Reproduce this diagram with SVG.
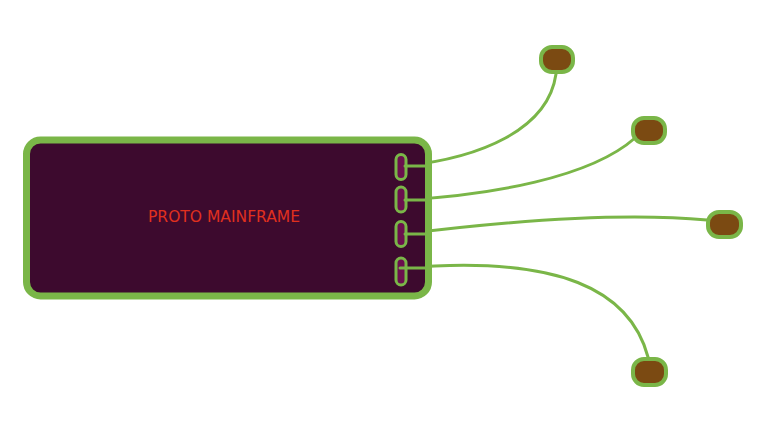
<svg xmlns="http://www.w3.org/2000/svg" width="764" height="432" viewBox="0 0 764 432">
<style>
.wire{fill:none;stroke:#7ab648;stroke-width:3;stroke-linecap:round}
.port{fill:#6b0f4e;stroke:#7ab648;stroke-width:3}
.end{fill:#7b4a12;stroke:#7ab648;stroke-width:4}
.lbl{font-family:"DejaVu Sans Condensed","Liberation Sans",sans-serif;font-size:16px;fill:#e0301e;text-anchor:middle}
</style>
<rect width="764" height="432" fill="#ffffff"/>
<g id="connectors">
<path class="wire" d="M404 166 C480 158 548 130 556 74"/>
<path class="wire" d="M404 200 C490 195 590 178 635 138"/>
<path class="wire" d="M404 234 C500 222 620 212 707 220"/>
<path class="wire" d="M404 268 C560 255 630 290 648 357"/>
</g>
<g id="mainframe">
<rect x="26.5" y="140" width="402" height="156" rx="14" ry="14" fill="#3d0a2e" stroke="#7ab648" stroke-width="7"/>
<text class="lbl" x="224" y="222" textLength="152" lengthAdjust="spacingAndGlyphs">PROTO MAINFRAME</text>
</g>
<g id="port1"><rect class="port" x="396" y="154.5" width="10" height="25" rx="5"/><path class="wire" d="M405 166 H430"/></g>
<g id="port2"><rect class="port" x="396" y="187" width="10" height="25" rx="5"/><path class="wire" d="M405 200 H430"/></g>
<g id="port3"><rect class="port" x="396" y="221.5" width="10" height="25" rx="5"/><path class="wire" d="M405 234 H430"/></g>
<g id="port4"><rect class="port" x="396" y="258" width="10" height="27" rx="5"/><path class="wire" d="M400 268 H430"/></g>
<g id="node1"><rect class="end" x="541" y="47" width="32" height="25" rx="11" ry="11"/></g>
<g id="node2"><rect class="end" x="633" y="118" width="32" height="25" rx="11" ry="11"/></g>
<g id="node3"><rect class="end" x="708" y="212" width="33" height="25" rx="11" ry="11"/></g>
<g id="node4"><rect class="end" x="633" y="359" width="33" height="26" rx="11" ry="11"/></g>
</svg>
